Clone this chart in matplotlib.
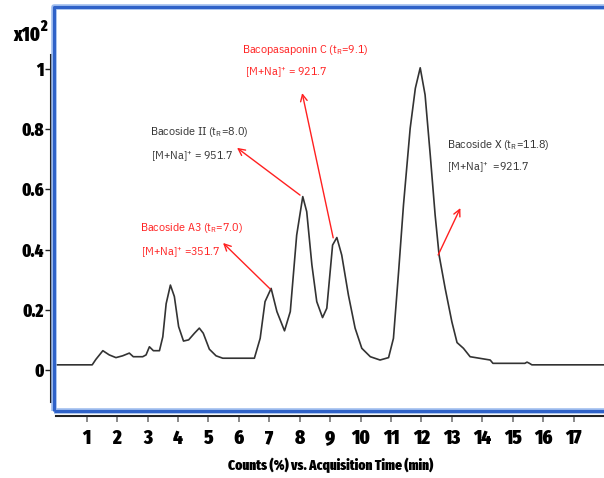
import matplotlib
matplotlib.use("Agg")
import statistics
import matplotlib.pyplot as plt
from matplotlib import font_manager
from matplotlib.lines import Line2D

names = {f.name for f in font_manager.fontManager.ttflist}

def pick(cands):
    for c in cands:
        if c in names:
            return c
    return "DejaVu Sans"

ANN_FONT = pick(["IBM Plex Sans Condensed", "Fira Sans Condensed", "Fira Sans Extra Condensed", "Liberation Sans"])
BOLD_FONT = pick(["Fira Sans Extra Condensed", "IBM Plex Sans Condensed", "Liberation Sans"])
plt.rcParams['font.family'] = [ANN_FONT, 'DejaVu Sans']
plt.rcParams['mathtext.fontset'] = 'custom'
plt.rcParams['mathtext.rm'] = ANN_FONT
plt.rcParams['mathtext.it'] = ANN_FONT
plt.rcParams['mathtext.bf'] = ANN_FONT + ':bold'

# ---- data ----
time_min = [0.0, 1.18, 1.30, 1.53, 1.74, 1.96, 2.18, 2.40, 2.53, 2.84, 2.95, 3.06, 3.19,
            3.39, 3.50, 3.61, 3.75, 3.88, 4.02, 4.18, 4.35, 4.54, 4.70, 4.83, 5.03, 5.25,
            5.47, 6.51, 6.70, 6.86, 7.06, 7.25, 7.50, 7.69, 7.90, 8.10, 8.23, 8.40, 8.56,
            8.75, 8.89, 9.08, 9.22, 9.38, 9.60, 9.82, 10.04, 10.32, 10.64, 10.92, 11.08,
            11.25, 11.41, 11.63, 11.80, 11.96, 12.12, 12.29, 12.45, 12.58, 12.78, 13.00,
            13.17, 13.38, 13.60, 14.26, 14.35, 15.40, 15.47, 15.55, 15.63, 18.0]
counts = [0.017, 0.017, 0.035, 0.064, 0.050, 0.041, 0.047, 0.056, 0.044, 0.044, 0.050, 0.077, 0.064,
          0.064, 0.110, 0.220, 0.282, 0.244, 0.144, 0.096, 0.100, 0.122, 0.139, 0.122, 0.069, 0.047,
          0.039, 0.039, 0.105, 0.227, 0.271, 0.194, 0.130, 0.194, 0.448, 0.576, 0.526, 0.349, 0.227,
          0.174, 0.205, 0.415, 0.440, 0.382, 0.249, 0.139, 0.072, 0.044, 0.033, 0.041, 0.105,
          0.327, 0.548, 0.803, 0.936, 1.004, 0.914, 0.714, 0.515, 0.382, 0.271, 0.160,
          0.091, 0.072, 0.044, 0.033, 0.022, 0.022, 0.026, 0.022, 0.017, 0.017]

x_ticks = list(range(1, 18))
y_ticks = [0, 0.2, 0.4, 0.6, 0.8, 1.0]
y_tick_labels = ["0", "0.2", "0.4", "0.6", "0.8", "1"]

ann_line1 = ["Bacopasaponin C (t$_R$=9.1)", "Bacoside II (t$_R$=8.0)",
             "Bacoside A3 (t$_R$=7.0)", "Bacoside X (t$_R$=11.8)"]
ann_line2 = ["[M+Na]$^{+}$ = 921.7", "[M+Na]$^{+}$ = 951.7",
             "[M+Na]$^{+}$ =351.7", "[M+Na]$^{+}$  =921.7"]
ann_colors = ["#ff2020", "#333333", "#ff2020", "#333333"]
ann_text_xy = [(6.11, 1.063), (3.08, 0.791), (2.75, 0.472), (12.85, 0.748)]
ann_text2_xy = [(6.21, 0.987), (3.11, 0.708), (2.79, 0.389), (12.85, 0.671)]
ann_tail = [(9.10, 0.439), (8.01, 0.581), (7.03, 0.269), (12.55, 0.382)]
ann_head = [(8.08, 0.92), (5.94, 0.738), (5.48, 0.422), (13.28, 0.538)]
# target pixel widths of the label lines (layout only)
ann_w1 = [115, 86, 93, 93]
ann_w2 = [73, 75, 72, 75]

# ---- figure ----
W, H = 604, 478
fig = plt.figure(figsize=(W / 100, H / 100), dpi=100)
ax = fig.add_axes([56.3 / W, 62 / H, 1 - 56.3 / W, (471 - 62) / H])
ax.set_xlim(0, 18)
ax.set_ylim(-0.153, 1.206)

ax.plot(time_min, counts, color="#333333", lw=1.2)

renderer = fig.canvas.get_renderer()

def fit(t, target):
    w = t.get_window_extent(renderer).width
    return t.get_fontsize() * target / w

texts = []
sizes = []
for l1, l2, c, p1, p2, w1, w2 in zip(ann_line1, ann_line2, ann_colors, ann_text_xy, ann_text2_xy, ann_w1, ann_w2):
    t1 = ax.text(p1[0], p1[1], l1, color=c, fontsize=10, ha="left", va="center")
    t2 = ax.text(p2[0], p2[1], l2, color=c, fontsize=10, ha="left", va="center")
    sizes.append(fit(t1, w1))
    sizes.append(fit(t2, w2))
    texts += [t1, t2]
fs_ann = statistics.median(sizes) * 1.1
for t in texts:
    t.set_fontsize(fs_ann)

for tail, head in zip(ann_tail, ann_head):
    ax.annotate("", xy=head, xytext=tail,
                arrowprops=dict(arrowstyle="->", color="#ff2020", lw=1.0,
                                shrinkA=0, shrinkB=0, mutation_scale=12))

for s in ["top", "right"]:
    ax.spines[s].set_visible(False)
ax.spines["left"].set_position(("outward", 4))
ax.spines["left"].set_bounds(-0.106, 1.047)
ax.spines["left"].set_color("#222222")
ax.spines["left"].set_linewidth(1.5)
ax.spines["bottom"].set_color("#222222")
ax.spines["bottom"].set_linewidth(1.5)

ax.set_xticks(x_ticks)
ax.set_xticklabels([str(v) for v in x_ticks], fontsize=14.5, fontweight="black", family=BOLD_FONT)
ax.set_yticks(y_ticks)
ax.set_yticklabels(y_tick_labels, fontsize=13, fontweight="black", family=BOLD_FONT)
ax.tick_params(axis="x", length=4, width=1.2, color="#777777", pad=5)
ax.tick_params(axis="y", length=4, width=1.0, color="#222222", pad=1)

xl = ax.set_xlabel("Counts (%) vs. Acquisition Time (min)", fontsize=11, fontweight="black",
                   family=BOLD_FONT, labelpad=7)
xl.set_fontsize(min(14, fit(xl, 205)))

fig.text(13 / W, 1 - 35 / H, "x10", fontsize=14, fontweight="black", family=BOLD_FONT, ha="left", va="center")
fig.text(40 / W, 1 - 26 / H, "2", fontsize=11, fontweight="black", family=BOLD_FONT, ha="left", va="center")

# blue frame
def fx(px):
    return px / W

def fy(py):
    return 1 - py / H

for lw, col in [(4.0, "#9dbbee"), (2.2, "#2f62c8")]:
    fig.add_artist(Line2D([fx(54), fx(54), fx(W + 5)], [fy(411), fy(7), fy(7)],
                          color=col, lw=lw, solid_capstyle="butt", transform=fig.transFigure))
    fig.add_artist(Line2D([fx(54), fx(W + 5)], [fy(411), fy(411)],
                          color=col, lw=lw, solid_capstyle="butt", transform=fig.transFigure))

fig.savefig("out.png", dpi=100)
